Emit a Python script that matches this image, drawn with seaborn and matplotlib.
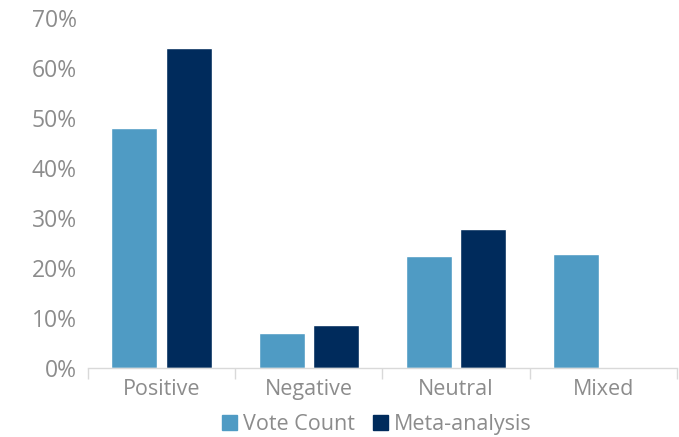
import pandas as pd
import matplotlib
matplotlib.use("Agg")
import matplotlib.pyplot as plt
import seaborn as sns
from matplotlib.ticker import PercentFormatter, FixedLocator

# --- Daten ---
kategorien = ["Positive", "Negative", "Neutral", "Mixed"]
vote_count = [0.479, 0.069, 0.224, 0.228]
meta_analysis = [0.640, 0.086, 0.277, 0.0]
serien = ["Vote Count", "Meta-analysis"]
farben = ["#4f9bc4", "#002b5c"]

df = pd.DataFrame({
    "Kategorie": kategorien * 2,
    "Serie": [serien[0]] * 4 + [serien[1]] * 4,
    "Wert": vote_count + meta_analysis,
})

sns.set_style("white")
plt.rcParams["font.family"] = ["Open Sans", "DejaVu Sans"]
grau = "#8c8c8c"

fig = plt.figure(figsize=(6.79, 4.37), dpi=100)
ax = fig.add_axes([0.1296, 0.158, 0.8674, 0.8008])

sns.barplot(data=df, x="Kategorie", y="Wert", hue="Serie",
            palette=farben, saturation=1, width=0.74, gap=0.16, ax=ax, legend=False)

ax.set_ylim(0, 0.70)
ax.set_xlim(-0.5, 3.5)
ax.yaxis.set_major_formatter(PercentFormatter(1.0, decimals=0))
ax.set_yticks([i / 10 for i in range(8)])
ax.tick_params(axis="y", length=0, labelsize=16.5, labelcolor=grau, pad=8)
ax.tick_params(axis="x", which="major", length=0, labelsize=15.5, labelcolor=grau, pad=8)
ax.xaxis.set_minor_locator(FixedLocator([-0.5, 0.5, 1.5, 2.5, 3.5]))
ax.tick_params(axis="x", which="minor", bottom=True, length=8, color="#d9d9d9", width=1)
ax.set_xlabel("")
ax.set_ylabel("")

for s in ["top", "right", "left"]:
    ax.spines[s].set_visible(False)
ax.spines["bottom"].set_color("#d9d9d9")
ax.spines["bottom"].set_linewidth(1)

# Legende unten
handles = [plt.Rectangle((0, 0), 1, 1, color=c) for c in farben]
fig.legend(handles, serien, loc="lower center", bbox_to_anchor=(0.555, -0.04),
           ncol=2, frameon=False, fontsize=15.5, labelcolor=grau,
           handlelength=0.7, handleheight=0.7, handletextpad=0.3, columnspacing=0.8)

fig.savefig("out.png", dpi=100)
